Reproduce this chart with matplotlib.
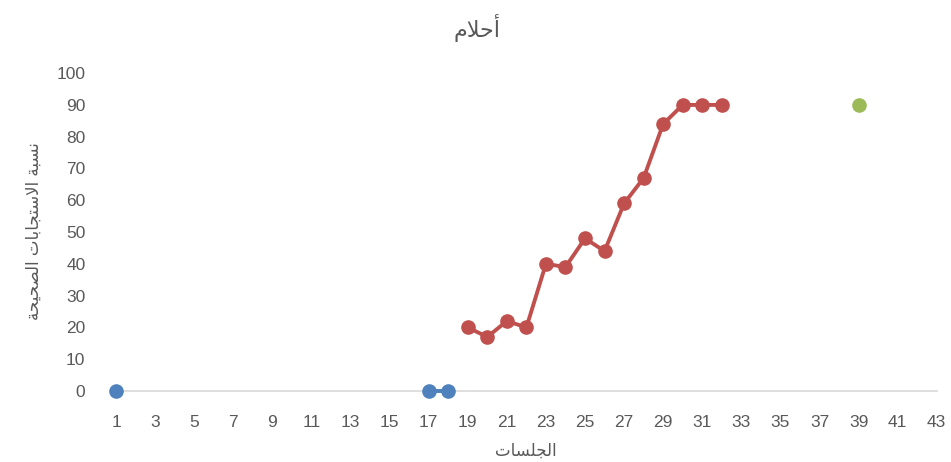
import numpy as np
import matplotlib
matplotlib.use('Agg')
import matplotlib.pyplot as plt

# data
baseline_sessions = [1, 17, 18]
baseline_values = [0, 0, 0]
treatment_sessions = [19, 20, 21, 22, 23, 24, 25, 26, 27, 28, 29, 30, 31, 32]
treatment_values = [20, 17, 22, 20, 40, 39, 48, 44, 59, 67, 84, 90, 90, 90]
followup_sessions = [39]
followup_values = [90]
x_ticks = list(range(1, 44, 2))
y_ticks = list(range(0, 101, 10))

title_text = 'أحلام'
x_label = 'الجلسات'
y_label = 'نسبة الاستجابات الصحيحة'

# matplotlib does no arabic shaping, so map letters to presentation forms
FORMS = {'ا': (0xFE8D, 2), 'أ': (0xFE83, 2), 'ب': (0xFE8F, 4), 'ة': (0xFE93, 2),
         'ت': (0xFE95, 4), 'ج': (0xFE9D, 4), 'ح': (0xFEA1, 4), 'س': (0xFEB1, 4),
         'ص': (0xFEB9, 4), 'ل': (0xFEDD, 4), 'م': (0xFEE1, 4), 'ن': (0xFEE5, 4),
         'ي': (0xFEF1, 4)}
LAM_ALEF = {'ا': 0xFEFB, 'أ': 0xFEF7}


def shape(text):
    tokens = []
    i = 0
    while i < len(text):
        c = text[i]
        if c == 'ل' and i + 1 < len(text) and text[i + 1] in LAM_ALEF:
            tokens.append((LAM_ALEF[text[i + 1]], 2))
            i += 2
            continue
        tokens.append(FORMS.get(c, c))
        i += 1
    out = []
    for k, t in enumerate(tokens):
        if isinstance(t, str):
            out.append(t)
            continue
        base, n = t
        prev = tokens[k - 1] if k > 0 else None
        nxt = tokens[k + 1] if k + 1 < len(tokens) else None
        jp = isinstance(prev, tuple) and prev[1] == 4
        jn = n == 4 and isinstance(nxt, tuple)
        if jp and jn:
            idx = 3
        elif jn:
            idx = 2
        elif jp:
            idx = 1
        else:
            idx = 0
        out.append(chr(base + idx))
    return ''.join(out)[::-1]


def runs(xs, ys):
    # split a series where the sessions are not consecutive
    parts, cur = [], [[xs[0]], [ys[0]]]
    for a, b in zip(xs[1:], ys[1:]):
        if a - cur[0][-1] == 1:
            cur[0].append(a); cur[1].append(b)
        else:
            parts.append(cur); cur = [[a], [b]]
    parts.append(cur)
    return parts


plt.rcParams['font.family'] = ['Liberation Sans', 'DejaVu Sans']
grey = '#595959'

fig = plt.figure(figsize=(9.51, 4.62), dpi=100)
ax = fig.add_axes([0.122, 0.1537, 0.863, 0.688])

for sx, sy in runs(baseline_sessions, baseline_values):
    ax.plot(sx, sy, color='#4F81BD', lw=2.8, marker='o', ms=9.5, clip_on=False, zorder=3)
for sx, sy in runs(treatment_sessions, treatment_values):
    ax.plot(sx, sy, color='#C0504D', lw=2.8, marker='o', ms=9.5, clip_on=False, zorder=3)
ax.plot(followup_sessions, followup_values, color='#9BBB59', lw=2.8, marker='o', ms=9.5,
        clip_on=False, zorder=3)

ax.set_xlim(1, 43)
ax.set_ylim(0, 100)
ax.set_xticks(x_ticks)
ax.set_yticks(y_ticks)
ax.tick_params(length=0, labelsize=12.5, labelcolor=grey)
ax.tick_params(axis='x', pad=17)
ax.tick_params(axis='y', pad=22)
for s in ['top', 'right', 'left']:
    ax.spines[s].set_visible(False)
ax.spines['bottom'].set_color('#d9d9d9')
ax.spines['bottom'].set_linewidth(1.2)

fig.text(0.502, 0.94, shape(title_text), ha='center', va='center', fontsize=16,
         color=grey, family='DejaVu Sans')
fig.text(0.553, 0.025, shape(x_label), ha='center', va='center', fontsize=12,
         color=grey, family='DejaVu Sans')
fig.text(0.035, 0.50, shape(y_label), ha='center', va='center', fontsize=12,
         color=grey, family='DejaVu Sans', rotation=90)

fig.savefig('out.png', dpi=100)
